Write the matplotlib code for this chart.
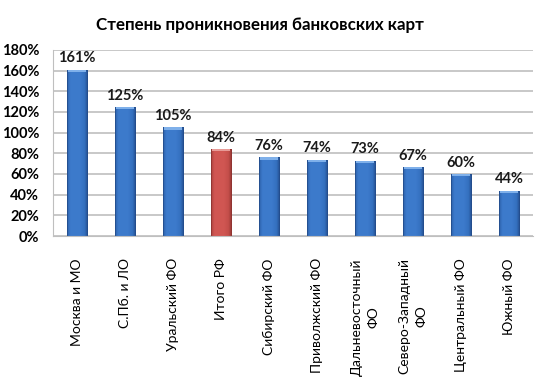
import matplotlib
matplotlib.use("Agg")
import matplotlib.pyplot as plt
import numpy as np
from matplotlib.colors import LinearSegmentedColormap

plt.rcParams['font.family'] = ['Lato', 'DejaVu Sans']

categories = ["Москва и МО", "С.Пб. и ЛО", "Уральский ФО", "Итого РФ", "Сибирский ФО",
              "Приволжский ФО", "Дальневосточный\nФО", "Северо-Западный\nФО",
              "Центральный ФО", "Южный ФО"]
values = [161, 125, 105, 84, 76, 74, 73, 67, 60, 44]
highlight = "Итого РФ"
yticks = [0, 20, 40, 60, 80, 100, 120, 140, 160, 180]
title = "Степень проникновения банковских карт"

fig = plt.figure(figsize=(5.43, 3.83), dpi=100)
ax = fig.add_axes([0.0976, 0.3838, 0.8840, 0.4857])

x = np.arange(len(categories))
width = 0.42
blue_cmap = LinearSegmentedColormap.from_list(
    "b", [(0, "#2C5FA8"), (0.15, "#3C7ACB"), (0.6, "#3D7BCC"), (0.85, "#3470BF"), (1, "#234D8C")])
red_cmap = LinearSegmentedColormap.from_list(
    "r", [(0, "#A8403D"), (0.15, "#D05652"), (0.6, "#D15753"), (0.85, "#C44E4A"), (1, "#8F3431")])
bars = ax.bar(x, values, width=width, color="#3C7ACB", zorder=2)
grad = np.linspace(0, 1, 64).reshape(1, -1)
for b, cat in zip(bars, categories):
    is_hl = cat == highlight
    cm = red_cmap if is_hl else blue_cmap
    b.set_facecolor("none")
    b.set_edgecolor("#8F3431" if is_hl else "#234D8C")
    b.set_linewidth(0.6)
    x0, y0 = b.get_x(), b.get_y()
    w, h = b.get_width(), b.get_height()
    im = ax.imshow(grad, cmap=cm, aspect="auto", extent=[x0, x0 + w, y0, y0 + h],
                   zorder=1.9, interpolation="bicubic")
    im.set_clip_path(b)
    # light top cap
    ax.bar(x0 + w / 2, 2.2, bottom=h - 2.2, width=w * 0.9,
           color="#E79A96" if is_hl else "#7FB0EA", zorder=2.1, linewidth=0)
    ax.text(x0 + w / 2, h + 4, f"{int(h)}%", ha="center", va="bottom",
            fontsize=10.5, fontweight="bold", color="#1a1a1a")

ax.set_xlim(-0.5, len(categories) - 0.5)
ax.set_ylim(0, 180)
ax.set_yticks(yticks)
ax.set_yticklabels([f"{t}%" for t in yticks], fontsize=10.5, fontweight="bold")
ax.set_xticks(x)
ax.set_xticklabels(categories, rotation=90, fontsize=10, ha="center", va="top",
                   multialignment="center", linespacing=1.45)
ax.tick_params(axis="x", length=0, pad=16)
ax.tick_params(axis="y", length=0, pad=10)
ax.yaxis.grid(True, color="#BFBFBF", linewidth=1.2, zorder=0)
ax.set_axisbelow(True)
for s in ["top", "right"]:
    ax.spines[s].set_visible(False)
ax.spines["left"].set_color("#BFBFBF")
ax.spines["bottom"].set_color("#BFBFBF")

fig.text(0.479, 0.935, title, ha="center", va="center", fontsize=12.2, fontweight="bold")

fig.savefig("out.png", dpi=100)
